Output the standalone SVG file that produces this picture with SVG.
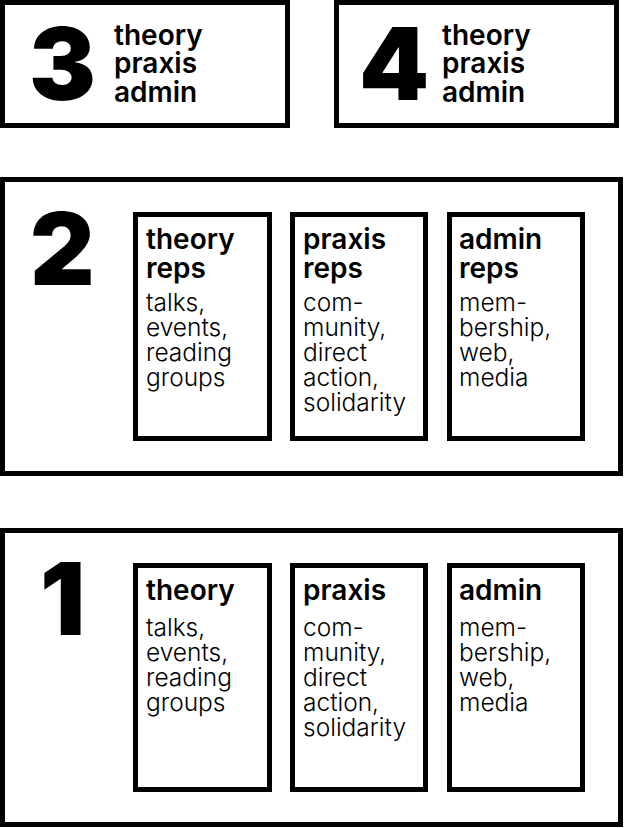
<svg xmlns="http://www.w3.org/2000/svg" width="624" height="828" viewBox="0 0 624 828">
  <style>
    .frame { fill: #ffffff; stroke: #000000; stroke-width: 5; }
    .num { font-family: Inter, "Liberation Sans", sans-serif; font-weight: 900; font-size: 100px; fill: #000; }
    .head { font-family: Inter, "Liberation Sans", sans-serif; font-weight: 600; font-size: 28px; fill: #000; }
    .body { font-family: Inter, "Liberation Sans", sans-serif; font-weight: 350; font-size: 24.5px; fill: #000; }
  </style>
  <rect width="624" height="828" fill="#ffffff"/>

  <!-- level 3 -->
  <g id="level3">
    <rect class="frame" x="2.5" y="2.5" width="285" height="123"/>
    <text class="num" x="29" y="100">3</text>
    <text class="head" x="114" y="44.5">theory</text>
    <text class="head" x="114" y="73">praxis</text>
    <text class="head" x="114" y="101.5">admin</text>
  </g>

  <!-- level 4 -->
  <g id="level4">
    <rect class="frame" x="336.5" y="2.5" width="280" height="123"/>
    <text class="num" x="359" y="100">4</text>
    <text class="head" x="442" y="44.5">theory</text>
    <text class="head" x="442" y="73">praxis</text>
    <text class="head" x="442" y="101.5">admin</text>
  </g>

  <!-- level 2: reps -->
  <g id="level2">
    <rect class="frame" x="2.5" y="179.5" width="618" height="294"/>
    <text class="num" x="30" y="285">2</text>
    <g id="theory-reps">
      <rect class="frame" x="135.5" y="214.5" width="134" height="224"/>
      <text class="head" x="146" y="249">theory</text>
      <text class="head" x="146" y="278">reps</text>
      <text class="body" x="146" y="311">talks,</text>
      <text class="body" x="146" y="336">events,</text>
      <text class="body" x="146" y="361">reading</text>
      <text class="body" x="146" y="386">groups</text>
    </g>
    <g id="praxis-reps">
      <rect class="frame" x="292.5" y="214.5" width="133" height="224"/>
      <text class="head" x="303" y="249">praxis</text>
      <text class="head" x="303" y="278">reps</text>
      <text class="body" x="303" y="311">com-</text>
      <text class="body" x="303" y="336">munity,</text>
      <text class="body" x="303" y="361">direct</text>
      <text class="body" x="303" y="386">action,</text>
      <text class="body" x="303" y="411">solidarity</text>
    </g>
    <g id="admin-reps">
      <rect class="frame" x="449.5" y="214.5" width="133" height="224"/>
      <text class="head" x="459" y="249">admin</text>
      <text class="head" x="459" y="278">reps</text>
      <text class="body" x="459" y="311">mem-</text>
      <text class="body" x="459" y="336">bership,</text>
      <text class="body" x="459" y="361">web,</text>
      <text class="body" x="459" y="386">media</text>
    </g>
  </g>

  <!-- level 1: groups -->
  <g id="level1">
    <rect class="frame" x="2.5" y="530.5" width="618" height="294"/>
    <text class="num" x="40" y="635">1</text>
    <g id="theory">
      <rect class="frame" x="135.5" y="565.5" width="134" height="224"/>
      <text class="head" x="146" y="600">theory</text>
      <text class="body" x="146" y="636">talks,</text>
      <text class="body" x="146" y="661">events,</text>
      <text class="body" x="146" y="686">reading</text>
      <text class="body" x="146" y="711">groups</text>
    </g>
    <g id="praxis">
      <rect class="frame" x="292.5" y="565.5" width="133" height="224"/>
      <text class="head" x="303" y="600">praxis</text>
      <text class="body" x="303" y="636">com-</text>
      <text class="body" x="303" y="661">munity,</text>
      <text class="body" x="303" y="686">direct</text>
      <text class="body" x="303" y="711">action,</text>
      <text class="body" x="303" y="736">solidarity</text>
    </g>
    <g id="admin">
      <rect class="frame" x="449.5" y="565.5" width="133" height="224"/>
      <text class="head" x="459" y="600">admin</text>
      <text class="body" x="459" y="636">mem-</text>
      <text class="body" x="459" y="661">bership,</text>
      <text class="body" x="459" y="686">web,</text>
      <text class="body" x="459" y="711">media</text>
    </g>
  </g>

  <g id="connectors"/>
</svg>
